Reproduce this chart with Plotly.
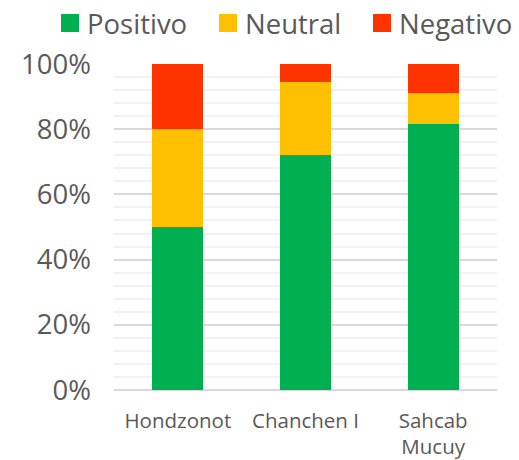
import plotly.graph_objects as go

categories = ["Hondzonot", "Chanchen I", "Sahcab<br>Mucuy"]
positivo = [0.50, 0.722, 0.817]
neutral = [0.30, 0.224, 0.093]
negativo = [0.20, 0.054, 0.090]
series_names = ["Positivo", "Neutral", "Negativo"]
colors = ["#00B050", "#FFC000", "#FF3300"]
y_ticks = [0, 0.2, 0.4, 0.6, 0.8, 1.0]

L, T, PW, PH = 114, 64, 383, 326


def px(x):
    return (x - L) / PW


def py(y):
    return (T + PH - y) / PH


fig = go.Figure()
for name, vals, col in zip(series_names, [positivo, neutral, negativo], colors):
    fig.add_trace(go.Bar(x=categories, y=vals, name=name, marker_color=col,
                         marker_line_width=0, width=0.4, showlegend=False))

# custom legend (large squares like the original)
leg_x = [61, 219, 373]
for name, col, lx in zip(series_names, colors, leg_x):
    fig.add_shape(type="rect", xref="paper", yref="paper",
                  x0=px(lx), x1=px(lx + 18), y0=py(32), y1=py(14),
                  fillcolor=col, line_width=0)
    fig.add_annotation(text=name, xref="paper", yref="paper",
                       x=px(lx + 25), y=py(23),
                       xanchor="left", yanchor="middle", showarrow=False,
                       borderpad=0,
                       font=dict(family="Open Sans", size=27.5, color="#595959"))

W, H = 519, 460
fig.update_layout(
    barmode="stack",
    width=W, height=H,
    margin=dict(l=L, r=W - L - PW, t=T, b=H - T - PH, autoexpand=False),
    plot_bgcolor="white", paper_bgcolor="white",
    font=dict(family="Open Sans", color="#595959"),
    xaxis=dict(showgrid=False, showline=False, tickfont=dict(size=20.5, color="#595959"),
               ticks="outside", ticklen=12, tickcolor="rgba(0,0,0,0)"),
    yaxis=dict(range=[0, 1.0], tickvals=y_ticks, tickformat=".0%",
               tickfont=dict(size=27.5, color="#595959"),
               showgrid=True, gridcolor="#D9D9D9", gridwidth=1.5,
               zeroline=True, zerolinecolor="#D9D9D9", zerolinewidth=1.5,
               ticklabelstandoff=22,
               minor=dict(dtick=0.04, showgrid=True, gridcolor="#F2F2F2", gridwidth=1.5)),
)

fig.write_html("out.html", config={"displayModeBar": False},
               post_script="document.body.style.margin='0';document.body.style.overflow='hidden';")
